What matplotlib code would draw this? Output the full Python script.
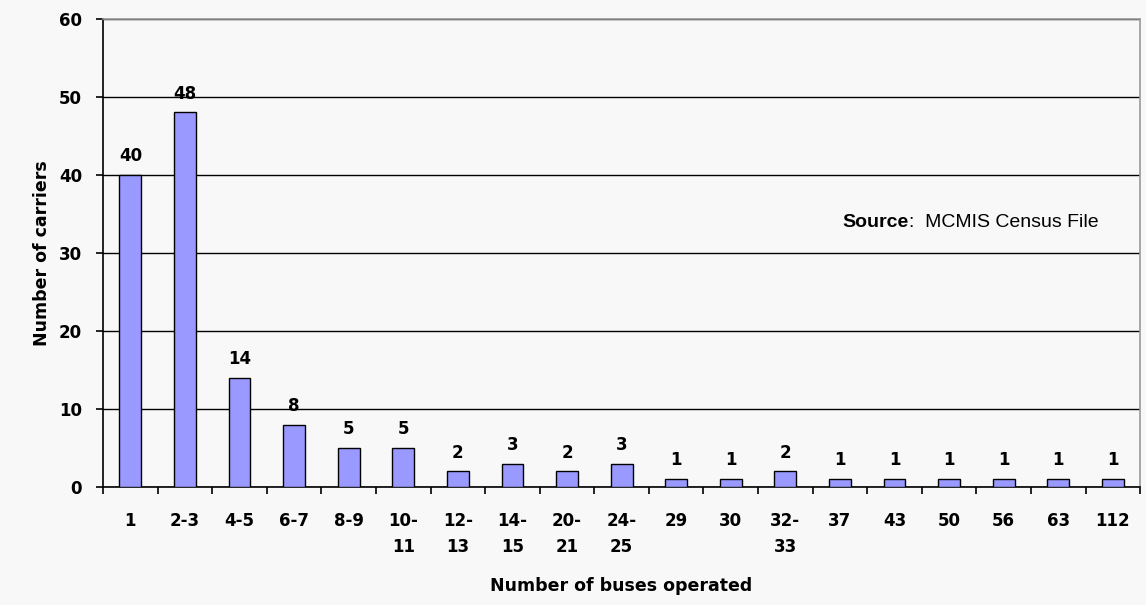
import matplotlib
matplotlib.use('Agg')
import matplotlib.pyplot as plt
import numpy as np

# number of buses operated (categories) and number of carriers
categories = ['1', '2-3', '4-5', '6-7', '8-9', '10-\n11', '12-\n13', '14-\n15',
              '20-\n21', '24-\n25', '29', '30', '32-\n33', '37', '43', '50',
              '56', '63', '112']
carriers = [40, 48, 14, 8, 5, 5, 2, 3, 2, 3, 1, 1, 2, 1, 1, 1, 1, 1, 1]

bg = '#f8f8f8'
fig = plt.figure(figsize=(11.46, 6.05), dpi=100, facecolor=bg)
ax = fig.add_axes([0.0899, 0.195, 0.905, 0.774])
ax.set_facecolor(bg)

x = np.arange(len(categories))
bars = ax.bar(x, carriers, width=0.4, color='#9999ff', edgecolor='black',
              linewidth=1.0, zorder=3)

for xi, v in zip(x, carriers):
    ax.annotate(str(v), (xi, v), xytext=(0, 7), textcoords='offset points',
                ha='center', va='bottom', fontsize=12, fontweight='bold')

ax.set_xlim(-0.5, len(categories) - 0.5)
ax.set_ylim(0, 60)
ax.set_yticks(range(0, 61, 10))
ax.yaxis.grid(True, color='black', linewidth=1.0, zorder=0)
ax.set_axisbelow(True)

# x ticks: labels centred, tick marks on category boundaries
ax.set_xticks(x)
ax.set_xticklabels(categories, fontsize=12, fontweight='bold')
for lbl in ax.get_xticklabels():
    lbl.set_linespacing(1.55)
ax.set_xticks(np.arange(-0.5, len(categories), 1.0), minor=True)
ax.tick_params(axis='x', which='major', length=0, pad=18)
ax.tick_params(axis='x', which='minor', length=5, width=1.2, direction='out')
ax.tick_params(axis='y', length=5, width=1.2, pad=10, labelsize=12)
for lbl in ax.get_yticklabels():
    lbl.set_fontweight('bold')

for s in ['left', 'bottom']:
    ax.spines[s].set_color('black')
    ax.spines[s].set_linewidth(1.2)
for s in ['top', 'right']:
    ax.spines[s].set_color('#999999')
    ax.spines[s].set_linewidth(1.2)

ax.set_xlabel('Number of buses operated', fontsize=12.5, fontweight='bold',
              labelpad=15)
ax.set_ylabel('Number of carriers', fontsize=12.5, fontweight='bold',
              labelpad=6)

t = ax.text(0.713, 0.564, 'Source', transform=ax.transAxes, fontsize=14,
            fontweight='bold', family='Liberation Sans', va='center', ha='left')
ax.annotate(':  MCMIS Census File', xy=(1, 0), xycoords=t, va='bottom',
            ha='left', fontsize=14, family='Liberation Sans')

fig.savefig('out.png', dpi=100, facecolor=bg)
